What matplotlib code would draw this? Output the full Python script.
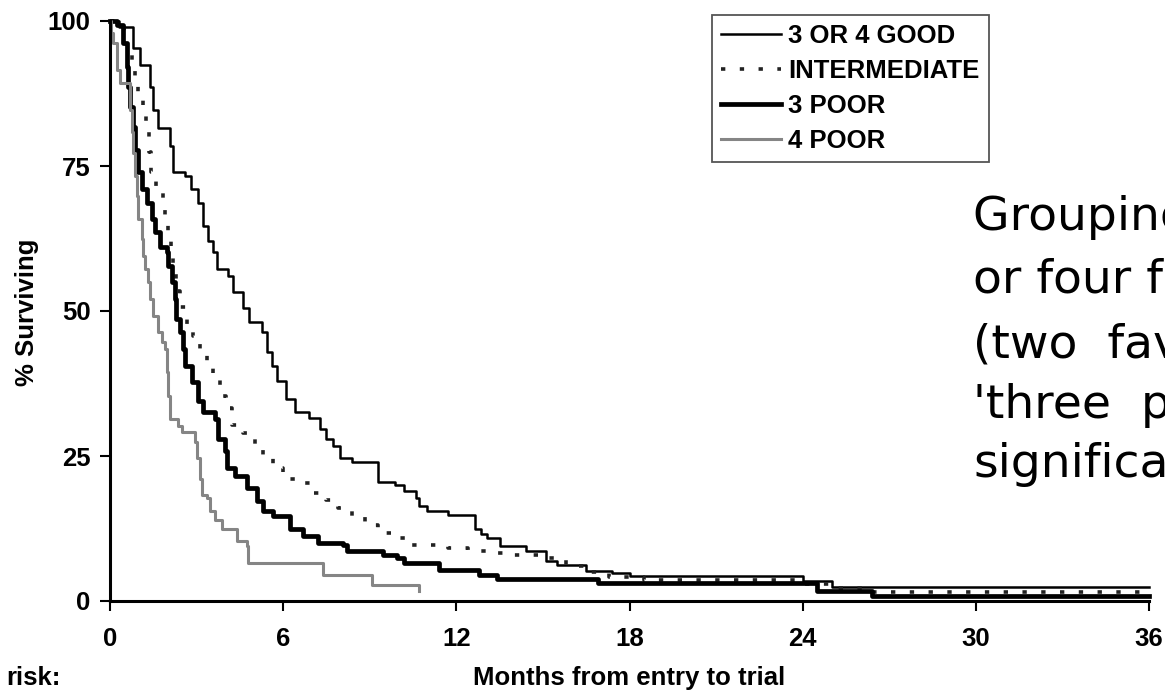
import matplotlib
matplotlib.use("Agg")
import matplotlib.pyplot as plt

# ---------------------------------------------------------------------------
# Kaplan-Meier step points (months, % surviving)
# ---------------------------------------------------------------------------
good_t = [0, 0.3, 0.8, 1.04, 1.39, 1.5, 1.67, 2.08, 2.18, 2.6, 2.8, 3.05, 3.22,
          3.4, 3.57, 3.7, 4.09, 4.26, 4.6, 4.8, 5.25, 5.43, 5.6, 5.8, 6.1, 6.4,
          6.9, 7.28, 7.5, 7.73, 7.97, 8.4, 9.3, 9.88, 10.2, 10.6, 10.7, 11.0,
          11.7, 12.65, 12.85, 13.05, 13.5, 14.4, 15.1, 15.5, 16.5, 17.4, 18.0,
          24.0, 25.0, 36.0]
good_s = [100, 99, 95.4, 92.4, 88.7, 84.7, 81.6, 78.4, 74.0, 73.2, 71.0, 68.7,
          64.6, 62.0, 60.1, 57.2, 56.0, 53.2, 50.5, 48.1, 46.4, 43.0, 40.5, 38.0,
          34.9, 32.6, 31.5, 29.7, 28.0, 26.8, 24.6, 24.0, 20.6, 20.0, 18.9, 17.7,
          16.3, 15.6, 14.8, 12.5, 11.5, 10.8, 9.5, 8.6, 6.9, 6.2, 5.2, 4.8, 4.3,
          3.5, 2.5, 2.5]

inter_t = [0, 0.5, 0.75, 0.87, 0.98, 1.13, 1.24, 1.35, 1.41, 1.6, 1.84, 1.91,
           2.0, 2.1, 2.2, 2.3, 2.43, 2.66, 2.88, 3.12, 3.36, 3.57, 3.81, 4.02,
           4.23, 4.6, 5.02, 5.3, 5.65, 6.0, 6.58, 7.0, 7.5, 7.9, 8.4, 8.84, 9.3,
           9.8, 10.4, 11.7, 12.4, 13.05, 13.7, 15.0, 15.8, 16.5, 17.3, 18.5,
           24.0, 25.0, 26.4, 36.0]
inter_s = [100, 96, 93.3, 89.9, 86.8, 83.8, 80.8, 77.5, 74.0, 71.5, 68.9, 65.8,
           62.7, 59.5, 56.5, 53.5, 50.7, 47.8, 45.7, 43.1, 40.5, 38.3, 35.4, 33.2,
           30.4, 28.9, 26.8, 24.9, 22.9, 21.1, 20.3, 18.6, 17.4, 16.0, 14.6, 13.1,
           11.7, 10.8, 9.6, 9.1, 8.6, 8.2, 7.9, 7.4, 6.0, 5.0, 4.2, 3.6, 3.0, 2.2,
           1.5, 1.5]

poor3_t = [0, 0.24, 0.45, 0.58, 0.63, 0.69, 0.8, 0.87, 0.97, 1.1, 1.28, 1.45,
           1.56, 1.73, 1.97, 2.0, 2.14, 2.25, 2.3, 2.43, 2.52, 2.6, 2.83, 3.05,
           3.22, 3.64, 3.74, 3.98, 4.05, 4.33, 4.75, 5.09, 5.3, 5.65, 6.24, 6.69,
           7.2, 8.07, 8.2, 9.46, 9.94, 10.2, 11.4, 12.8, 13.4, 16.9, 24.5, 26.4,
           36.0]
poor3_s = [100, 99.3, 96.2, 92.1, 88.7, 85.2, 81.8, 77.8, 73.9, 71.0, 68.7, 65.8,
           63.6, 61.0, 60.1, 57.7, 55.0, 52.0, 48.6, 46.4, 43.5, 40.5, 37.8, 34.4,
           32.6, 31.4, 28.0, 25.8, 22.9, 21.6, 19.4, 17.2, 15.5, 14.6, 12.5, 11.2,
           10.0, 9.6, 8.6, 7.9, 7.4, 6.5, 5.3, 4.5, 3.8, 3.1, 1.8, 0.9, 0.9]

poor4_t = [0, 0.05, 0.12, 0.24, 0.35, 0.69, 0.75, 0.8, 0.87, 0.93, 0.98, 1.1,
           1.15, 1.21, 1.32, 1.39, 1.5, 1.67, 1.8, 1.91, 1.97, 2.0, 2.08, 2.36,
           2.49, 2.95, 3.0, 3.12, 3.19, 3.36, 3.47, 3.64, 3.88, 4.4, 4.75, 4.78,
           7.38, 9.08, 10.7]
poor4_s = [100, 98, 96.2, 91.6, 89.3, 84.7, 80.8, 77.3, 73.2, 69.8, 65.8, 62.4,
           59.5, 57.2, 55.0, 52.0, 49.1, 46.4, 44.7, 43.5, 39.5, 35.4, 31.4, 30.2,
           29.2, 27.5, 24.6, 21.1, 18.2, 17.7, 15.5, 13.9, 12.5, 10.3, 9.5, 6.5,
           4.5, 2.7, 1.7]

labels = ["3 OR 4 GOOD", "INTERMEDIATE", "3 POOR", "4 POOR"]
x_ticks = [0, 6, 12, 18, 24, 30, 36]
y_ticks = [0, 25, 50, 75, 100]

note_lines = ["Grouping of patients", "or four factors", "(two  favourable",
              "'three  poor'", "significant"]

W, H = 1165, 692
chart_font = {"family": "Liberation Sans", "weight": "bold", "size": 18.5}
legend_font = {"family": "Liberation Sans", "weight": "bold", "size": 18.5}

fig = plt.figure(figsize=(W / 100, H / 100), dpi=100)
ax = fig.add_axes([110 / W, 1 - 601 / H, (1149 - 110) / W, (601 - 21) / H])

ax.step(good_t, good_s, where="post", color="black", lw=1.8,
        label=labels[0], clip_on=False)
ax.step(inter_t, inter_s, where="post", color="#222222", lw=2.6,
        linestyle=(0, (1.2, 4.0)), label=labels[1], clip_on=False)
ax.step(poor3_t, poor3_s, where="post", color="black", lw=3.4,
        label=labels[2], clip_on=False)
ax.step(poor4_t, poor4_s, where="post", color="#858585", lw=2.2,
        label=labels[3], clip_on=False)

ax.set_xlim(0, 36)
ax.set_ylim(0, 100)
ax.set_xticks(x_ticks)
ax.set_yticks(y_ticks)
ax.set_xticklabels([str(v) for v in x_ticks], fontdict=chart_font)
ax.set_yticklabels([str(v) for v in y_ticks], fontdict=chart_font)
ax.tick_params(axis="both", direction="out", length=7, width=1.5, color="black")
ax.tick_params(axis="x", pad=12)
ax.tick_params(axis="y", pad=7)
for side in ("top", "right"):
    ax.spines[side].set_visible(False)
for side in ("left", "bottom"):
    ax.spines[side].set_linewidth(2.2)

leg = ax.legend(loc="upper left", bbox_to_anchor=(712 / W, 1 - 15 / H),
                bbox_transform=fig.transFigure, borderaxespad=0,
                prop=legend_font, handlelength=2.33, handletextpad=0.28,
                labelspacing=0.42, borderpad=0.36, fancybox=False,
                framealpha=1, edgecolor="#555555")
leg.get_frame().set_linewidth(1.3)

fig.text(27 / W, 1 - 312 / H, "% Surviving", rotation=90, ha="center",
         va="center", fontdict=chart_font)
fig.text(629 / W, 1 - 678 / H, "Months from entry to trial", ha="center",
         va="center", fontdict=chart_font)
fig.text(6 / W, 1 - 678 / H, "risk:", ha="left", va="center",
         fontdict=chart_font)

# overlaid slide text, running off the right edge as in the reference
baselines = [230, 292, 357, 418, 477]
for line, yb in zip(note_lines, baselines):
    fig.text(973 / W, 1 - yb / H, line, ha="left", va="baseline",
             fontsize=34, family="DejaVu Sans", color="black")

fig.savefig("out.png", dpi=100)
